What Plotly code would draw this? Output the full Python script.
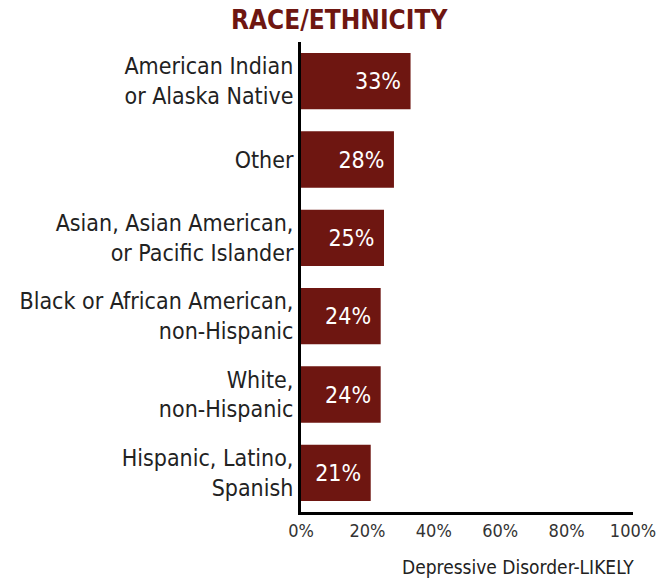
import plotly.graph_objects as go

# Share of respondents screening positive for likely depressive disorder
categories = [
    "American Indian<br>or Alaska Native",
    "Other",
    "Asian, Asian American,<br>or Pacific Islander",
    "Black or African American,<br>non-Hispanic",
    "White,<br>non-Hispanic",
    "Hispanic, Latino,<br>Spanish",
]
values = [33, 28, 25, 24, 24, 21]
tick_vals = [0, 20, 40, 60, 80, 100]
tick_text = ["0%", "20%", "40%", "60%", "80%", "100%"]

FONT = "Liberation Sans Narrow, DejaVu Sans Condensed, Roboto, sans-serif"
RED = "#6e1611"

fig = go.Figure(
    go.Bar(
        x=values,
        y=categories,
        orientation="h",
        marker=dict(color=RED, line=dict(width=0)),
        text=[f"{v}%\u00a0" for v in values],
        textposition="inside",
        insidetextanchor="end",
        textfont=dict(family=FONT, size=23, color="white"),
        cliponaxis=False,
    )
)

fig.update_layout(
    width=663,
    height=579,
    margin=dict(l=301, r=30, t=42, b=67, autoexpand=False),
    paper_bgcolor="white",
    plot_bgcolor="white",
    showlegend=False,
    bargap=0.28,
    font=dict(family=FONT),
    uniformtext=dict(minsize=10, mode="show"),
)

fig.update_xaxes(
    range=[0, 100],
    tickvals=tick_vals,
    ticktext=tick_text,
    showgrid=False,
    zeroline=False,
    showline=True,
    linecolor="black",
    linewidth=3,
    ticks="",
    automargin=False,
    tickfont=dict(family=FONT, size=18, color="#333333"),
    fixedrange=True,
)

fig.update_yaxes(
    categoryorder="array",
    categoryarray=categories[::-1],
    range=[-0.5, 5.5],
    showgrid=False,
    zeroline=False,
    showline=True,
    linecolor="black",
    linewidth=3,
    ticks="",
    automargin=False,
    ticklabelstandoff=0,
    tickfont=dict(family=FONT, size=23, color="#222222"),
    fixedrange=True,
)

fig.add_annotation(
    text="<b>RACE/ETHNICITY</b>",
    xref="paper", yref="paper",
    x=0.117, y=1.0, yshift=22,
    xanchor="center", yanchor="middle",
    showarrow=False,
    font=dict(family=FONT, size=26, color=RED),
)

fig.add_annotation(
    text="Depressive Disorder-LIKELY",
    xref="paper", yref="paper",
    x=1.01, y=0, yshift=-55,
    xanchor="right", yanchor="middle",
    showarrow=False,
    font=dict(family=FONT, size=19, color="#222222"),
)

fig.write_html("out.html")
